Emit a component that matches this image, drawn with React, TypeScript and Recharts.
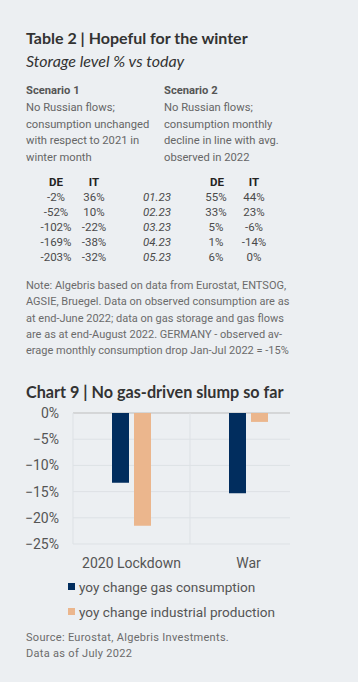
import React from "react"
import { Bar, BarChart, CartesianGrid, ReferenceLine, XAxis, YAxis } from "recharts"

const periods = ["2020 Lockdown", "War"]
const gasYoy = [-13.3, -15.3]
const industryYoy = [-21.5, -1.7]
const yTicks = [0, -5, -10, -15, -20, -25]

const seriesNames = ["yoy change gas consumption", "yoy change industrial production"]
const seriesColors = ["#012d5e", "#ebb68d"]

const months = ["01.23", "02.23", "03.23", "04.23", "05.23"]
const s1De = ["-2%", "-52%", "-102%", "-169%", "-203%"]
const s1It = ["36%", "10%", "-22%", "-38%", "-32%"]
const s2De = ["55%", "33%", "5%", "1%", "6%"]
const s2It = ["44%", "23%", "-6%", "-14%", "0%"]

const scenario1 = ["No Russian flows;", "consumption unchanged", "with respect to 2021 in", "winter month"]
const scenario2 = ["No Russian flows;", "consumption monthly", "decline in line with avg.", "observed in 2022"]
const noteLines = [
  "Note: Algebris based on data from Eurostat, ENTSOG,",
  "AGSIE, Bruegel. Data on observed consumption are as",
  "at end-June 2022; data on gas storage and gas flows",
  "are as at end-August 2022. GERMANY - observed av-",
  "erage monthly consumption drop Jan-Jul 2022 = -15%",
]
const sourceLines = ["Source: Eurostat, Algebris Investments.", "Data as of July 2022"]

const chartData = periods.map((p, i) => ({ name: p, gas: gasYoy[i], industry: industryYoy[i] }))

const BODY = "Roboto, 'Noto Sans', sans-serif"
const HEAD = "Lato, 'Open Sans', sans-serif"

const abs = (top: number, left: number, extra: React.CSSProperties = {}): React.CSSProperties => ({
  position: "absolute",
  top,
  left,
  whiteSpace: "nowrap",
  ...extra,
})

function Cell({ x, y, text, bold, italic }: { x: number; y: number; text: string; bold?: boolean; italic?: boolean }) {
  return (
    <div
      style={abs(y - 8, x - 30, {
        width: 60,
        lineHeight: "16px",
        textAlign: "center",
        fontSize: 11.5,
        color: bold ? "#222" : "#4a4a4a",
        fontWeight: bold ? 700 : 400,
        fontStyle: italic ? "italic" : "normal",
      })}
    >
      {text}
    </div>
  )
}

const rowY = [197, 212, 227, 242, 257]

export default function App() {
  return (
    <div
      style={{
        position: "absolute",
        left: 0,
        top: 0,
        width: 358,
        height: 682,
        background: "#eceff2",
        fontFamily: BODY,
        overflow: "hidden",
      }}
    >
      <div style={abs(28, 26, { fontFamily: HEAD, fontWeight: 700, fontSize: 16, color: "#333", lineHeight: "20px" })}>
        Table 2 | Hopeful for the winter
      </div>
      <div style={abs(51, 26, { fontFamily: HEAD, fontStyle: "italic", fontSize: 16, color: "#333", lineHeight: "20px" })}>
        Storage level % vs today
      </div>

      <div style={abs(83.4, 26, { fontSize: 11.2, lineHeight: "16.6px", color: "#666" })}>
        <div style={{ fontWeight: 700, color: "#555" }}>Scenario 1</div>
        {scenario1.map((l) => (
          <div key={l}>{l}</div>
        ))}
      </div>
      <div style={abs(83.4, 164, { fontSize: 11.2, lineHeight: "16.6px", color: "#666" })}>
        <div style={{ fontWeight: 700, color: "#555" }}>Scenario 2</div>
        {scenario2.map((l) => (
          <div key={l}>{l}</div>
        ))}
      </div>

      <Cell x={56} y={182} text="DE" bold />
      <Cell x={94} y={182} text="IT" bold />
      <Cell x={217} y={182} text="DE" bold />
      <Cell x={254} y={182} text="IT" bold />
      {months.map((m, i) => (
        <React.Fragment key={m}>
          <Cell x={56} y={rowY[i]} text={s1De[i]} />
          <Cell x={94} y={rowY[i]} text={s1It[i]} />
          <Cell x={157} y={rowY[i]} text={m} italic />
          <Cell x={216} y={rowY[i]} text={s2De[i]} />
          <Cell x={254} y={rowY[i]} text={s2It[i]} />
        </React.Fragment>
      ))}

      <div style={abs(277.8, 26, { fontSize: 11, lineHeight: "16.4px", color: "#6b6b6b" })}>
        {noteLines.map((l) => (
          <div key={l}>{l}</div>
        ))}
      </div>

      <div style={abs(382, 26, { fontFamily: HEAD, fontWeight: 700, fontSize: 16.2, color: "#333", lineHeight: "20px" })}>
        Chart 9 | No gas-driven slump so far
      </div>

      <div style={abs(400, 0)}>
        <BarChart
          width={358}
          height={174}
          data={chartData}
          margin={{ top: 13, right: 51, bottom: 0, left: 0 }}
          barSize={17}
          barGap={5}
        >
          <CartesianGrid
            vertical={false}
            horizontal={(p: any) => {
              const top = Math.abs(p.y1 - 13) < 1
              return (
                <line
                  key={p.key ?? `h-${p.index}`}
                  x1={p.x1}
                  x2={p.x2 - 17}
                  y1={p.y1}
                  y2={p.y2}
                  stroke={top ? "#bdbdbd" : "#dde1e5"}
                  strokeWidth={1}
                />
              )
            }}
          />
          <ReferenceLine x="War" position="start" stroke="#dde1e5" />
          <XAxis
            dataKey="name"
            axisLine={false}
            tickLine={false}
            tickSize={0}
            tickMargin={14}
            height={30}
            tick={{ fontSize: 14, fill: "#555", fontFamily: BODY }}
          />
          <YAxis
            domain={[-25, 0]}
            ticks={yTicks}
            width={73}
            axisLine={{ stroke: "#dde1e5" }}
            tickLine={false}
            tickSize={0}
            tickMargin={14}
            tickFormatter={(v: number) => (v < 0 ? `\u2212${Math.abs(v)}%` : `${v}%`)}
            tick={{ fontSize: 14, fill: "#555", fontFamily: BODY }}
          />
          <Bar dataKey="gas" name={seriesNames[0]} fill={seriesColors[0]} isAnimationActive={false} />
          <Bar dataKey="industry" name={seriesNames[1]} fill={seriesColors[1]} isAnimationActive={false} />
        </BarChart>
      </div>

      {seriesNames.map((n, i) => (
        <div key={n} style={abs(574.5 + i * 25, 68, { lineHeight: "25px", fontSize: 13.6, color: "#555" })}>
          <span
            style={{
              display: "inline-block",
              width: 7,
              height: 7,
              background: seriesColors[i],
              marginRight: 4,
              verticalAlign: "middle",
              position: "relative",
              top: -1,
            }}
          />
          {n}
        </div>
      ))}

      <div style={abs(630.3, 26, { fontSize: 11, lineHeight: "16px", color: "#6b6b6b", letterSpacing: 0.3 })}>
        {sourceLines.map((l) => (
          <div key={l}>{l}</div>
        ))}
      </div>
    </div>
  )
}
